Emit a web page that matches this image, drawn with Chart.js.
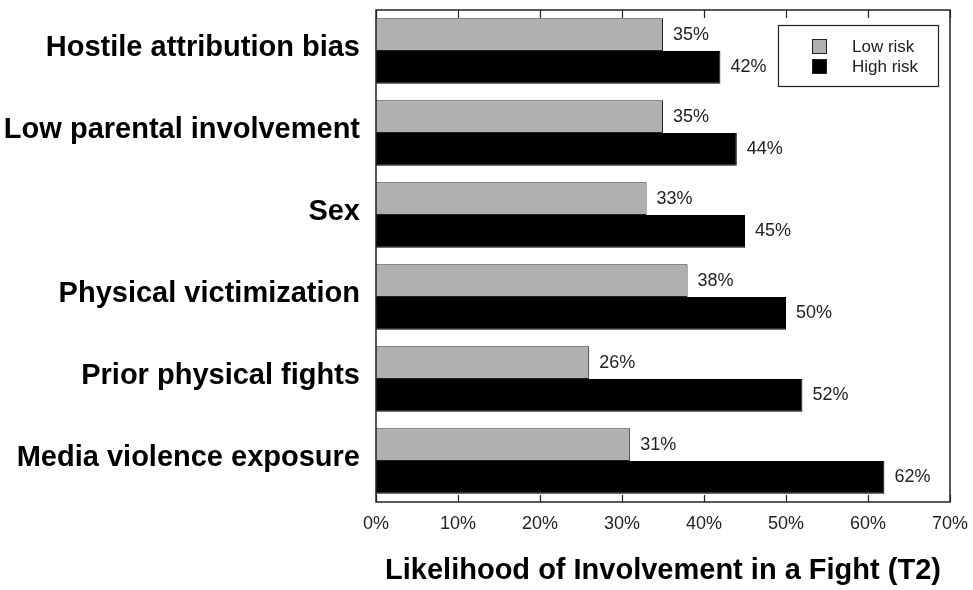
<!DOCTYPE html>
<html>
<head>
<meta charset="utf-8">
<title>Likelihood of Involvement in a Fight</title>
<script src="https://cdn.jsdelivr.net/npm/chart.js@4.4.1/dist/chart.umd.min.js"></script>
<style>
  html, body { margin: 0; padding: 0; background: #fff; }
  #chart { display: block; }
</style>
</head>
<body>
<canvas id="chart" width="973" height="590"></canvas>
<script>
// data
const categories = [
  'Hostile attribution bias',
  'Low parental involvement',
  'Sex',
  'Physical victimization',
  'Prior physical fights',
  'Media violence exposure'
];
const lowRisk = [35, 35, 33, 38, 26, 31];
const highRisk = [42, 44, 45, 50, 52, 62];
const seriesNames = ['Low risk', 'High risk'];
const xMin = 0, xMax = 70, xStep = 10;
const axisTitle = 'Likelihood of Involvement in a Fight (T2)';

const FONT = '"Liberation Sans", Arial, Helvetica, sans-serif';
const lowColor = '#b0b0b0';
const highColor = '#000000';

// box, inner ticks, value labels, legend
const decorPlugin = {
  id: 'decor',
  afterDatasetsDraw(chart) {
    const ctx = chart.ctx;
    const a = chart.chartArea;
    const xs = chart.scales.x;
    ctx.save();

    // frame
    ctx.strokeStyle = '#222';
    ctx.lineWidth = 1.5;
    ctx.strokeRect(a.left, a.top, a.right - a.left, a.bottom - a.top);

    // inward tick marks top and bottom
    ctx.lineWidth = 1.2;
    xs.ticks.forEach(t => {
      const px = Math.round(xs.getPixelForValue(t.value)) + 0.5;
      ctx.beginPath();
      ctx.moveTo(px, a.bottom);
      ctx.lineTo(px, a.bottom - 7);
      ctx.moveTo(px, a.top);
      ctx.lineTo(px, a.top + 8);
      ctx.stroke();
    });

    // value labels
    ctx.fillStyle = '#222';
    ctx.font = '18px ' + FONT;
    ctx.textAlign = 'left';
    ctx.textBaseline = 'middle';
    chart.data.datasets.forEach((ds, i) => {
      chart.getDatasetMeta(i).data.forEach((bar, j) => {
        ctx.fillText(ds.data[j] + '%', bar.x + 10, bar.y);
      });
    });

    // legend
    const lx = 778, ly = 25, lw = 160, lh = 61;
    ctx.fillStyle = '#fff';
    ctx.fillRect(lx, ly, lw, lh);
    ctx.strokeStyle = '#222';
    ctx.lineWidth = 1.2;
    ctx.strokeRect(lx + 0.5, ly + 0.5, lw, lh);
    chart.data.datasets.forEach((ds, i) => {
      const cy = ly + 21 + i * 20;
      ctx.fillStyle = ds.backgroundColor;
      ctx.fillRect(lx + 34, cy - 7, 15, 15);
      ctx.strokeStyle = '#222';
      ctx.lineWidth = 1;
      ctx.strokeRect(lx + 34.5, cy - 6.5, 14, 14);
      ctx.fillStyle = '#222';
      ctx.font = '17px ' + FONT;
      ctx.fillText(ds.label, lx + 74, cy + 1);
    });

    ctx.restore();
  }
};

new Chart(document.getElementById('chart'), {
  type: 'bar',
  data: {
    labels: categories,
    datasets: [
      {
        label: seriesNames[0],
        data: lowRisk,
        backgroundColor: lowColor,
        borderColor: '#222',
        borderWidth: 1
      },
      {
        label: seriesNames[1],
        data: highRisk,
        backgroundColor: highColor,
        borderColor: '#000',
        borderWidth: 1
      }
    ]
  },
  options: {
    indexAxis: 'y',
    responsive: false,
    animation: false,
    layout: { padding: { left: 0, right: 23, top: 10, bottom: 0 } },
    plugins: {
      legend: { display: false },
      tooltip: { enabled: false }
    },
    datasets: {
      bar: { categoryPercentage: 0.8, barPercentage: 1.0 }
    },
    scales: {
      x: {
        min: xMin,
        max: xMax,
        ticks: {
          stepSize: xStep,
          color: '#222',
          font: { family: FONT, size: 18 },
          padding: 11,
          maxRotation: 0,
          callback: v => v + '%'
        },
        grid: { display: false, drawTicks: false },
        border: { display: false },
        title: {
          display: true,
          text: axisTitle,
          color: '#000',
          font: { family: FONT, size: 29, weight: 'bold' },
          padding: { top: 0, bottom: 2 }
        },
        afterFit(scale) {
          scale.height = 88;
          scale.paddingLeft = 0;
          scale.paddingRight = 0;
        }
      },
      y: {
        ticks: {
          color: '#000',
          font: { family: FONT, size: 29, weight: 'bold' },
          padding: 16,
          labelOffset: -3
        },
        grid: { display: false, drawTicks: false },
        border: { display: false },
        afterFit(scale) {
          scale.width = 376;
          scale.paddingTop = 0;
          scale.paddingBottom = 0;
        }
      }
    }
  },
  plugins: [decorPlugin]
});
</script>
</body>
</html>
